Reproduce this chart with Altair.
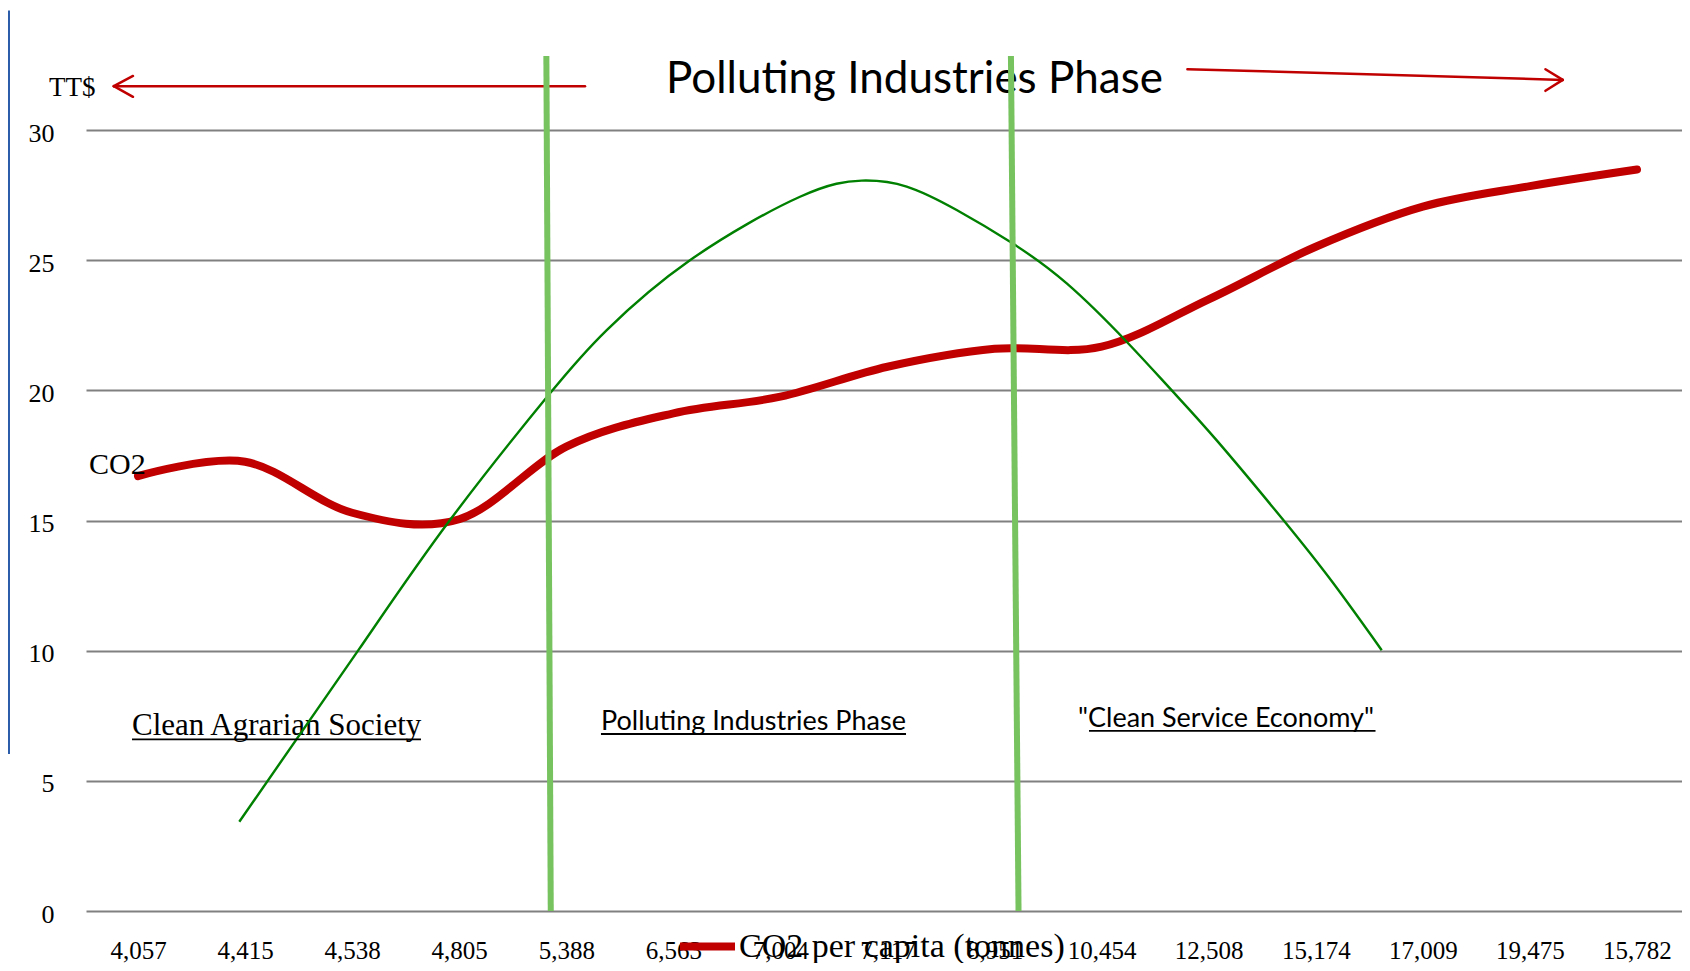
import json
import altair as alt
import pandas as pd

# ---- data ----
categories = ["4,057", "4,415", "4,538", "4,805", "5,388", "6,563", "7,004", "7,117",
              "8,951", "10,454", "12,508", "15,174", "17,009", "19,475", "15,782"]
co2_values = [16.71, 17.26, 15.30, 15.05, 17.84, 19.12, 19.76, 20.91,
              21.60, 21.68, 23.50, 25.52, 27.06, 27.85, 28.49]
series_name = "CO2 per capita (tonnes)"

# green (Kuznets-type) curve, x in category-index units
green_x = [0.946, 2.06, 2.914, 3.848, 4.378, 5.155, 6.183, 6.759, 7.179, 7.646,
           8.16, 8.674, 9.234, 9.655, 10.075, 10.697, 11.164, 11.616]
green_y = [3.43, 10.03, 15.02, 19.89, 22.32, 25.0, 27.44, 28.06, 27.83, 26.93,
           25.67, 24.11, 21.87, 20.0, 18.08, 15.02, 12.59, 10.02]

y_ticks = [0, 5, 10, 15, 20, 25, 30]

# phase divider lines (top x, top y, bottom x, bottom y)
div_x = [3.814, 8.153]
div_x2 = [3.855, 8.224]
div_top = [32.85, 32.85]
div_bottom = [0, 0]

# annotation texts
txt_labels = ["TT$", "CO2", "Clean Agrarian Society"]
txt_x = [-0.831, -0.458, -0.056]
txt_y = [31.31, 16.79, 6.76]
txt_size = [27, 30, 31]

sans_labels = ["Polluting Industries Phase", "Polluting Industries Phase", "\"Clean Service Economy\""]
sans_x = [4.931, 4.324, 8.779]
sans_y = [31.44, 6.95, 7.06]
sans_size = [44, 27, 27]

# underlines
ul_x = [-0.056, 4.324, 8.882]
ul_x2 = [2.643, 7.173, 11.558]
ul_y = [6.59, 6.80, 6.92]

# arrows (segments)
ar_x = [4.175, -0.226, -0.226, 9.801, 13.307, 13.307]
ar_y = [31.69, 31.69, 31.69, 32.34, 31.93, 31.93]
ar_x2 = [-0.226, -0.0467, -0.0467, 13.307, 13.145, 13.145]
ar_y2 = [31.69, 32.08, 31.28, 31.93, 32.34, 31.51]

# left blue border line
blue_x = [-1.205]
blue_y = [34.6]
blue_y2 = [6.03]

SERIF = "Liberation Serif"
SANS = "Lato"
RED = "#c00000"

xs = alt.Scale(domain=[-0.4857, 14.4205], nice=False, zero=False)
ys = alt.Scale(domain=[0, 34], nice=False, zero=False)

label_expr = "[" + ",".join(json.dumps(c) for c in categories) + "][datum.value]"
x_axis = alt.Axis(values=list(range(len(categories))), labelExpr=label_expr, grid=False,
                  domain=False, ticks=False, labelFont=SERIF, labelFontSize=25,
                  labelColor="black", labelPadding=47, labelBaseline="alphabetic",
                  title=None, labelOverlap=False, labelFlush=False)
y_axis = alt.Axis(values=y_ticks, grid=True, gridColor="#808080", gridWidth=2,
                  domain=False, ticks=False, labelFont=SERIF, labelFontSize=26,
                  labelColor="black", labelPadding=32, labelOffset=3, title=None)


def X(f="x"):
    return alt.X(f, type="quantitative", scale=xs, axis=x_axis)


def Y(f="y"):
    return alt.Y(f, type="quantitative", scale=ys, axis=y_axis)


red_df = pd.DataFrame({"x": list(range(len(categories))), "y": co2_values,
                       "series": [series_name] * len(categories)})
red = alt.Chart(red_df).mark_line(interpolate="cardinal", strokeWidth=8, strokeCap="round").encode(
    x=X(), y=Y(),
    color=alt.Color("series:N", scale=alt.Scale(range=[RED]),
                    legend=alt.Legend(orient="none", legendX=590, legendY=889, title=None,
                                      symbolType="stroke", symbolSize=3025,
                                      symbolStrokeWidth=8, labelFont=SERIF,
                                      labelFontSize=34, labelColor="black",
                                      labelOffset=0, labelLimit=0, padding=0))
)

green_df = pd.DataFrame({"x": green_x, "y": green_y})
green = alt.Chart(green_df).mark_line(interpolate="natural", strokeWidth=2.4,
                                      color="#008000").encode(x=X(), y=Y())

serif_df = pd.DataFrame({"x": txt_x, "y": txt_y, "t": txt_labels, "s": txt_size})
serif_txt = alt.Chart(serif_df).mark_text(font=SERIF, align="left", baseline="alphabetic",
                                          color="black").encode(
    x=X(), y=Y(), text="t:N", size=alt.Size("s:Q", scale=None, legend=None))

sans_df = pd.DataFrame({"x": sans_x, "y": sans_y, "t": sans_labels, "s": sans_size})
sans_txt = alt.Chart(sans_df).mark_text(font=SANS, align="left", baseline="alphabetic",
                                        color="black").encode(
    x=X(), y=Y(), text="t:N", size=alt.Size("s:Q", scale=None, legend=None))

ul_df = pd.DataFrame({"x": ul_x, "x2": ul_x2, "y": ul_y})
underlines = alt.Chart(ul_df).mark_rule(color="black", strokeWidth=1.8).encode(
    x=X(), x2="x2", y=Y())

ar_df = pd.DataFrame({"x": ar_x, "y": ar_y, "x2": ar_x2, "y2": ar_y2})
arrows = alt.Chart(ar_df).mark_rule(color=RED, strokeWidth=2.5, strokeCap="round").encode(
    x=X(), y=Y(), x2="x2", y2="y2")

div_df = pd.DataFrame({"x": div_x, "x2": div_x2, "y": div_top, "y2": div_bottom})
dividers = alt.Chart(div_df).mark_rule(color="#77c35f", strokeWidth=6).encode(
    x=X(), y=Y(), x2="x2", y2="y2")

blue_df = pd.DataFrame({"x": blue_x, "y": blue_y, "y2": blue_y2})
blue = alt.Chart(blue_df).mark_rule(color="#2a5caa", strokeWidth=2).encode(
    x=X(), y=Y(), y2="y2")

chart = alt.layer(red, serif_txt, green, sans_txt, underlines, arrows, dividers, blue).properties(
    width=1596, height=885,
    padding={"left": 78, "top": 18, "right": 0, "bottom": 52},
    autosize=alt.AutoSizeParams(type="none"),
    background="white",
).configure_view(stroke=None)

chart.save("out.html", embed_options={"renderer": "svg", "actions": False})
